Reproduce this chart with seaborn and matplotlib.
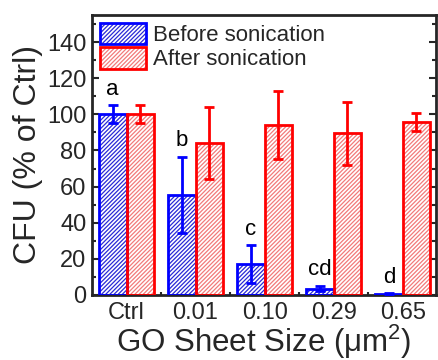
import matplotlib
matplotlib.use("Agg")
import matplotlib.pyplot as plt
import seaborn as sns
import pandas as pd
from matplotlib.patches import Patch, Rectangle
from matplotlib.ticker import MultipleLocator, FixedLocator

sizes = ["Ctrl", "0.01", "0.10", "0.29", "0.65"]
before_mean = [100, 55.5, 17, 3.5, 0.5]
before_err = [5, 21, 10.5, 1.5, 0.5]
after_mean = [100, 84, 94, 89.5, 96]
after_err = [5, 20, 19, 17.5, 5]
letters = ["a", "b", "c", "cd", "d"]
groups = ["Before sonication", "After sonication"]

edge_colors = {"Before sonication": "#0000ff", "After sonication": "#ff0000"}
hatch_colors = {"Before sonication": "#2a2ad6", "After sonication": "#f27a7a"}
HATCH = "////////"

df = pd.DataFrame({
    "size": sizes * 2,
    "cfu": before_mean + after_mean,
    "err": before_err + after_err,
    "group": [groups[0]] * len(sizes) + [groups[1]] * len(sizes),
})

sns.set_style("ticks")
plt.rcParams["font.family"] = ["Liberation Sans", "DejaVu Sans"]
plt.rcParams["mathtext.fontset"] = "custom"
plt.rcParams["mathtext.rm"] = "Liberation Sans"
plt.rcParams["mathtext.it"] = "Liberation Sans"
plt.rcParams["hatch.linewidth"] = 0.9

fig = plt.figure(figsize=(4.38, 3.6), dpi=100)
ax = fig.add_axes([0.21, 0.181, 0.785, 0.777])

sns.barplot(data=df, x="size", y="cfu", hue="group", order=sizes,
            hue_order=groups, errorbar=None, width=0.8, gap=0,
            palette=edge_colors, legend=False, ax=ax)

# hatched fill first, then a solid outline on top
bars = list(ax.patches)[: 2 * len(sizes)]
for i, p in enumerate(bars):
    g = groups[i // len(sizes)]
    p.set_facecolor("white")
    p.set_edgecolor(hatch_colors[g])
    p.set_hatch(HATCH)
    p.set_linewidth(0)
    ax.add_patch(Rectangle(p.get_xy(), p.get_width(), p.get_height(),
                           fill=False, edgecolor=edge_colors[g], lw=2, zorder=3))

# error bars from each bar centre, significance letters above the blue ones
for i, p in enumerate(bars):
    g = groups[i // len(sizes)]
    k = i % len(sizes)
    err = before_err[k] if g == groups[0] else after_err[k]
    xc = p.get_x() + p.get_width() / 2
    ax.errorbar(xc, p.get_height(), yerr=err, color=edge_colors[g],
                elinewidth=2, capsize=3.5, capthick=2, zorder=4)
    if g == groups[0]:
        ax.text(xc, p.get_height() + err + 3, letters[k], ha="center",
                va="bottom", fontsize=16, color="black")

ax.set_ylim(0, 155)
ax.set_xlim(-0.5, 4.48)
ax.yaxis.set_major_locator(FixedLocator([0, 20, 40, 60, 80, 100, 120, 140]))
ax.yaxis.set_minor_locator(MultipleLocator(10))
ax.xaxis.set_minor_locator(FixedLocator([0.5, 1.5, 2.5, 3.5]))
ax.tick_params(axis="both", which="both", direction="in", width=1.5,
               right=True, top=False)
ax.tick_params(axis="y", which="major", length=5, labelsize=17, pad=4)
ax.tick_params(axis="y", which="minor", length=3)
ax.tick_params(axis="x", which="major", length=3, labelsize=17, pad=5)
ax.tick_params(axis="x", which="minor", length=2)
ax.tick_params(axis="y", which="both", labelright=False)
for s in ax.spines.values():
    s.set_linewidth(2)
    s.set_visible(True)

ax.set_xlabel("GO Sheet Size (μm$^2$)", fontsize=22.5, labelpad=-1)
ax.set_ylabel("CFU (% of Ctrl)", fontsize=23, labelpad=3)

handles = [
    (Patch(facecolor="white", edgecolor=hatch_colors[g], hatch=HATCH, lw=0),
     Patch(fill=False, edgecolor=edge_colors[g], lw=2))
    for g in groups
]
ax.legend(handles, groups, loc="upper left", frameon=False, fontsize=16,
          handlelength=2.1, handleheight=1.1, handletextpad=0.3,
          labelspacing=0.05, borderaxespad=0.2, borderpad=0.15)

fig.savefig("out.png", dpi=100)
